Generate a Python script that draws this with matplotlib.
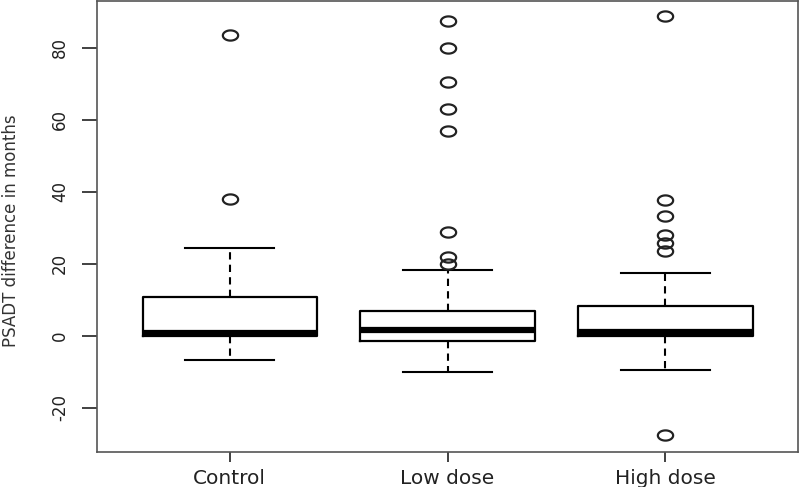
import matplotlib.pyplot as plt
import numpy as np
from matplotlib.path import Path

# values
groups = ['Control', 'Low dose', 'High dose']
q1 = [-0.2, -1.6, -0.1]
medians = [0.8, 1.5, 0.9]
q3 = [10.8, 6.9, 8.3]
whisker_low = [-6.8, -10.2, -9.6]
whisker_high = [24.4, 18.2, 17.5]
outliers_control = [83.6, 37.9]
outliers_low = [87.5, 79.9, 70.6, 62.9, 56.9, 28.8, 21.9, 20.0]
outliers_high = [88.7, 37.8, 33.2, 27.9, 25.8, 23.5, -27.6]
yticks = [-20, 0, 20, 40, 60, 80]


def ellipse_marker():
    t = np.linspace(0, 2 * np.pi, 60)
    verts = np.column_stack([0.75 * np.cos(t), 0.5 * np.sin(t)])
    return Path(verts, closed=True)


fig = plt.figure(figsize=(8, 4.87), dpi=100)
ax = fig.add_axes([0.121, 0.072, 0.877, 0.926])

fliers = [outliers_control, outliers_low, outliers_high]
stats = []
for i in range(len(groups)):
    stats.append({
        'label': groups[i],
        'q1': q1[i], 'med': medians[i], 'q3': q3[i],
        'whislo': whisker_low[i], 'whishi': whisker_high[i],
        'fliers': np.array(fliers[i]),
    })

ax.bxp(stats, positions=[1, 2, 3], widths=0.8, showfliers=True,
       boxprops=dict(color='black', linewidth=1.6),
       medianprops=dict(color='black', linewidth=4.5, solid_capstyle='butt'),
       whiskerprops=dict(color='black', linewidth=1.5, linestyle=(0, (3.5, 2.5))),
       capprops=dict(color='black', linewidth=1.5),
       capwidths=0.41,
       flierprops=dict(marker=ellipse_marker(), markersize=11,
                       markerfacecolor='none', markeredgecolor='#222222',
                       markeredgewidth=1.6, linestyle='none'))

ax.set_xlim(0.39, 3.61)
ax.set_ylim(-32.3, 93.0)

for sp in ax.spines.values():
    sp.set_color('#555555')
    sp.set_linewidth(1.2)

ax.set_yticks(yticks)
ax.set_yticklabels([str(v) for v in yticks], rotation=90, va='center',
                   fontsize=12, color='#222222')
ax.tick_params(axis='y', length=11, width=1.3, color='#333333', pad=9)
ax.set_xticks([1, 2, 3])
ax.set_xticklabels(groups, fontsize=14.5, color='#222222')
ax.tick_params(axis='x', length=7, width=1.3, color='#333333', pad=5)

ax.set_ylabel('PSADT difference in months', fontsize=12, color='#333333',
              va='center')
ax.yaxis.set_label_coords(-0.122, 0.49)

fig.savefig('out.png', dpi=100)
